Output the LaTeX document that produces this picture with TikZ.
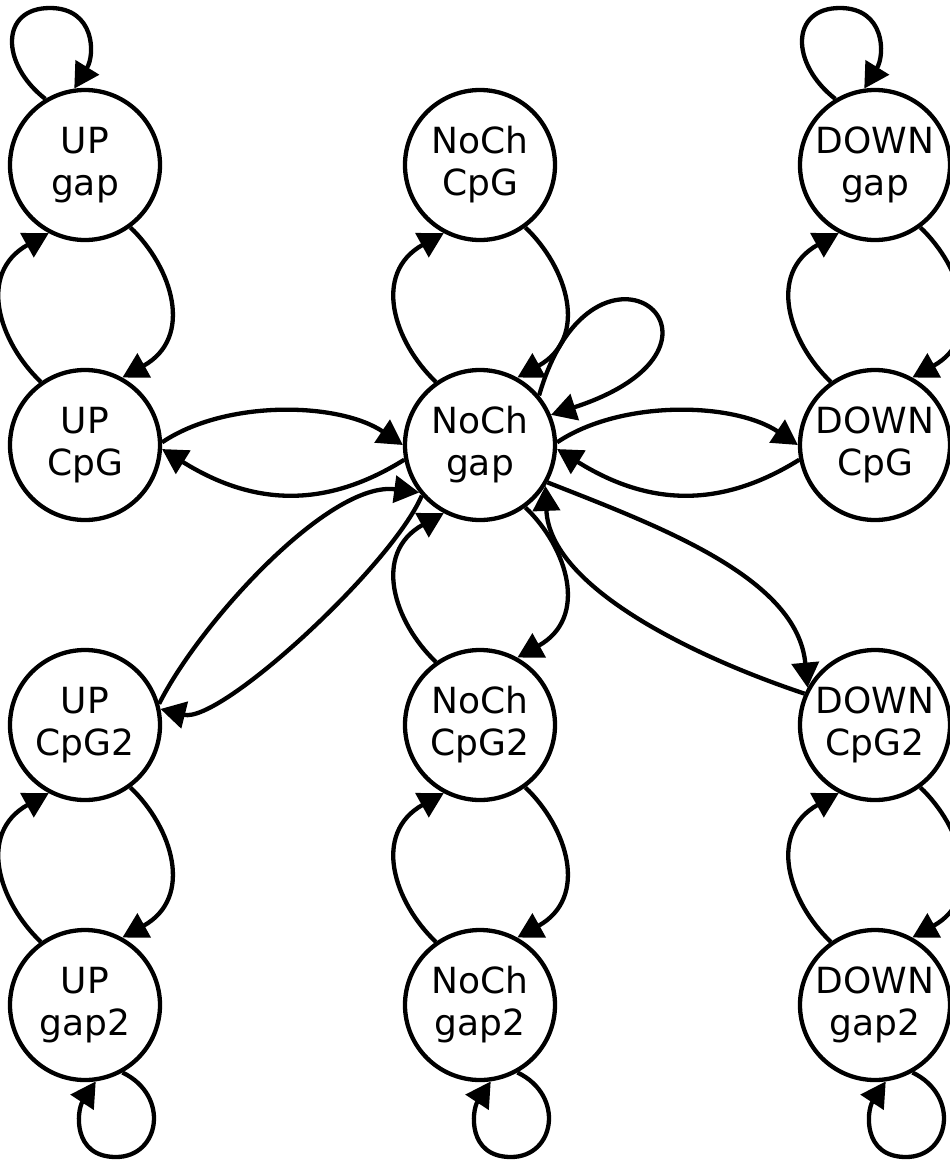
\documentclass[tikz,border=0pt]{standalone}
\usepackage{fontspec}
\setmainfont{DejaVu Sans}
\usetikzlibrary{arrows.meta,calc}

\tikzset{
  state/.style={draw, circle, line width=4.3pt, minimum size=150pt, inner sep=0pt,
    align=center, font=\fontsize{36}{42}\selectfont},
  conn/.style={draw, line width=4.3pt, -{Triangle[length=25pt,width=27pt]}}
}

\begin{document}
\begin{tikzpicture}[x=1pt, y=-1pt]
  \useasboundingbox (0,0) rectangle (950,1160);
  \fill[white] (0,0) rectangle (950,1160);

  % states: three columns, four rows
  \node[state] (upgap)    at (85,165)   {UP\\gap};
  \node[state] (upcpg)    at (85,445)   {UP\\CpG};
  \node[state] (upcpgb)   at (85,725)   {UP\\CpG2};
  \node[state] (upgapb)   at (85,1005)  {UP\\gap2};
  \node[state] (nochcpg)  at (480,165)  {NoCh\\CpG};
  \node[state] (nochgap)  at (480,445)  {NoCh\\gap};
  \node[state] (nochcpgb) at (480,725)  {NoCh\\CpG2};
  \node[state] (nochgapb) at (480,1005) {NoCh\\gap2};
  \node[state] (downgap)  at (875,165)  {DOWN\\gap};
  \node[state] (downcpg)  at (875,445)  {DOWN\\CpG};
  \node[state] (downcpgb) at (875,725)  {DOWN\\CpG2};
  \node[state] (downgapb) at (875,1005) {DOWN\\gap2};

  % self loops above the top row
  \foreach \n in {upgap, downgap}{
    \draw[conn] (\n.121.6) .. controls +(-45,-35) and +(-50,0) .. ($(\n)+(-35,-157)$)
                .. controls +(45,0) and +(21,-34) .. (\n.98.5);
  }
  % self loops below the bottom row
  \foreach \n in {upgapb, nochgapb, downgapb}{
    \draw[conn] (\n.-61.2) .. controls +(48,23) and +(44,0) .. ($(\n)+(31,152)$)
                .. controls +(-44,0) and +(-19,29) .. (\n.-82.5);
  }
  % self loop of the central state
  \draw[conn] (nochgap.40) .. controls +(55,-190) and +(215,-70) .. (nochgap.23);

  % vertical pairs: down on the right, up on the left
  \foreach \a/\b in {upgap/upcpg, nochcpg/nochgap, downgap/downcpg,
                     nochgap/nochcpgb, upcpgb/upgapb, nochcpgb/nochgapb, downcpgb/downgapb}{
    \draw[conn] (\a.-54.5) .. controls +(42,40) and +(72,-40) .. (\b.61.4);
    \draw[conn] (\b.125.5) .. controls +(-42,-40) and +(-72,40) .. (\a.-118.6);
  }

  % horizontal pairs
  \draw[conn] (upcpg.2) .. controls +(64,-43) and +(-64,-43) .. (nochgap.180);
  \draw[conn] (nochgap.191) .. controls +(-85,53) and +(85,53) .. (upcpg.-3);
  \draw[conn] (nochgap.2) .. controls +(64,-43) and +(-64,-43) .. (downcpg.180);
  \draw[conn] (downcpg.191) .. controls +(-85,53) and +(85,53) .. (nochgap.-3);

  % diagonal pairs
  \draw[conn] (upcpgb.16) .. controls +(40,-80) and +(-90,-12) .. (nochgap.218);
  \draw[conn] (nochgap.221) .. controls +(-30,70) and +(60,15) .. (upcpgb.12);
  \draw[conn] (nochgap.-29) .. controls +(112,44) and +(-10,-110) .. (downcpgb.151);
  \draw[conn] (downcpgb.156) .. controls +(-114,-38) and +(4,100) .. (nochgap.-32.5);
\end{tikzpicture}
\end{document}
